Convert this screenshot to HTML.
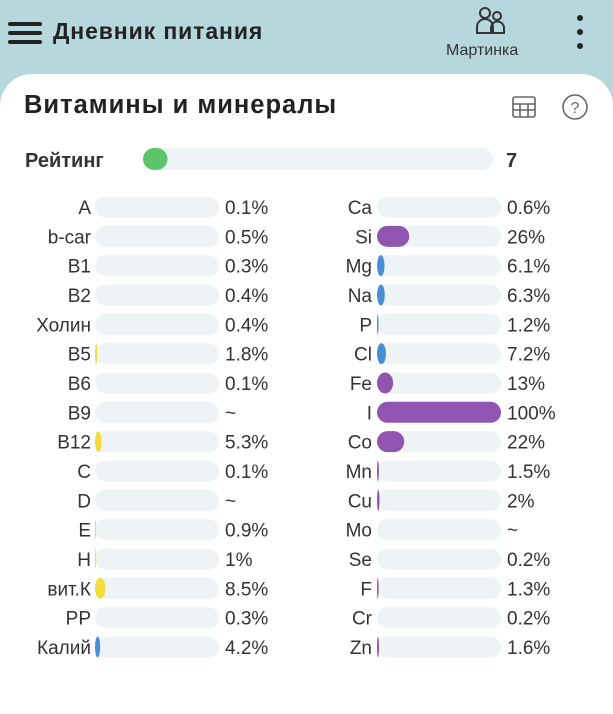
<!DOCTYPE html>
<html><head><meta charset="utf-8">
<style>
body{margin:0;width:613px;height:680px;overflow:hidden;background:#b6d7dc;font-family:"Liberation Sans",sans-serif;position:relative}
.card{position:absolute;left:0;top:74px;width:613px;height:640px;background:#fff;border-radius:32px 32px 0 0}
</style></head><body>
<div style="position:absolute;left:0;top:0;width:613px;height:74px">
 <svg style="position:absolute;left:8px;top:21px" width="34" height="24"><rect x="0" y="1" width="34" height="4" rx="2" fill="#222"/><rect x="0" y="10" width="34" height="4" rx="2" fill="#222"/><rect x="0" y="19" width="34" height="4" rx="2" fill="#222"/></svg>
 <div style="position:absolute;left:53px;top:18px;font-size:23px;font-weight:bold;color:#222;letter-spacing:0.9px">Дневник питания</div>
 <svg style="position:absolute;left:475px;top:6px" width="34" height="30" fill="none" stroke="#333" stroke-width="2"><circle cx="10" cy="7" r="5"/><circle cx="22" cy="10" r="4"/><path d="M2 27v-6a8 8 0 0 1 16 0v6zM16 27v-5a6 6 0 0 1 13 0v5z"/></svg>
 <div style="position:absolute;left:446px;top:42px;font-size:16px;color:#333">Мартинка</div>
 <svg style="position:absolute;left:575px;top:14px" width="10" height="40"><circle cx="5" cy="4" r="3" fill="#222"/><circle cx="5" cy="18" r="3" fill="#222"/><circle cx="5" cy="32" r="3" fill="#222"/></svg>
</div>
<div class="card"></div>
<div style="position:absolute;left:24px;top:91px;font-size:25.5px;font-weight:bold;color:#222;letter-spacing:1px">Витамины и минералы</div>
<svg style="position:absolute;left:511px;top:95px" width="26" height="24" fill="none" stroke="#666" stroke-width="1.6"><rect x="2" y="2" width="22" height="20" rx="2"/><path d="M2 9h22M2 15h22M9 9v13M17 9v13"/></svg>
<svg style="position:absolute;left:561px;top:93px" width="28" height="28"><circle cx="14" cy="14" r="12" fill="none" stroke="#666" stroke-width="1.6"/><text x="14" y="20" text-anchor="middle" font-size="16" fill="#666" font-family="Liberation Sans">?</text></svg>
<svg id="chart" style="position:absolute;left:0;top:0" width="613" height="680" font-family="Liberation Sans, sans-serif"></svg>
<script>
const leftNames=["A","b-car","B1","B2","Холин","B5","B6","B9","B12","C","D","E","H","вит.К","PP","Калий"];
const leftValues=[0.1,0.5,0.3,0.4,0.4,1.8,0.1,null,5.3,0.1,null,0.9,1,8.5,0.3,4.2];
const leftLabels=["0.1%","0.5%","0.3%","0.4%","0.4%","1.8%","0.1%","~","5.3%","0.1%","~","0.9%","1%","8.5%","0.3%","4.2%"];
const rightNames=["Ca","Si","Mg","Na","P","Cl","Fe","I","Co","Mn","Cu","Mo","Se","F","Cr","Zn"];
const rightValues=[0.6,26,6.1,6.3,1.2,7.2,13,100,22,1.5,2,null,0.2,1.3,0.2,1.6];
const rightLabels=["0.6%","26%","6.1%","6.3%","1.2%","7.2%","13%","100%","22%","1.5%","2%","~","0.2%","1.3%","0.2%","1.6%"];
const ratingValue=7;
const ratingMax=100;
const svg=document.getElementById('chart');
const NS='http://www.w3.org/2000/svg';
function mk(t,a){const e=document.createElementNS(NS,t);for(const k in a)e.setAttribute(k,a[k]);svg.appendChild(e);return e;}
const BAR_W=124,BAR_H=21;
function rowY(i){return 207+i*29.33;}
function xs(v){return v/100*BAR_W;}
function colorFor(side,i){
 if(side==='L') return i===15?'#4a8fd6':'#f0dc3a';
 return (i>=2&&i<=5)?'#4a8fd6':'#8f55b0';
}
function drawCol(names,vals,labels,side,x0,labX,valX){
 names.forEach((n,i)=>{
  const cy=rowY(i);
  const t=mk('text',{x:labX,y:cy+7,'text-anchor':'end','font-size':19,fill:'#333'});
  t.textContent=n;
  
  
  const tr=mk('rect',{x:x0,y:cy-BAR_H/2,width:BAR_W,height:BAR_H,rx:10.5,fill:'#eef4f6'});
  
  
  const v=vals[i];
  if(v!=null){
   const w=xs(v);
   if(w>=1){
    const f=mk('rect',{x:x0,y:cy-BAR_H/2,width:w,height:BAR_H,rx:Math.min(10.5,w/2),ry:10.5,fill:colorFor(side,i)});
    
    
   }
  }
  const vt=mk('text',{x:valX,y:cy+7,'font-size':19,fill:'#333'});
  vt.textContent=labels[i];
  
  
 });
}
drawCol(leftNames,leftValues,leftLabels,'L',95,91,225);
drawCol(rightNames,rightValues,rightLabels,'R',377,372,507);
const rl=mk('text',{x:25,y:167,'font-size':20,'font-weight':'bold',fill:'#333'});rl.textContent='Рейтинг';


const rt=mk('rect',{x:143,y:148,width:350,height:22,rx:11,fill:'#eef4f6'});


const rw=Math.max(24,ratingValue/ratingMax*350);
const rf=mk('rect',{x:143,y:148,width:rw,height:22,rx:11,fill:'#5cc56c'});


const rv=mk('text',{x:506,y:167,'font-size':20,'font-weight':'bold',fill:'#333'});rv.textContent=String(ratingValue);


</script>
</body></html>
